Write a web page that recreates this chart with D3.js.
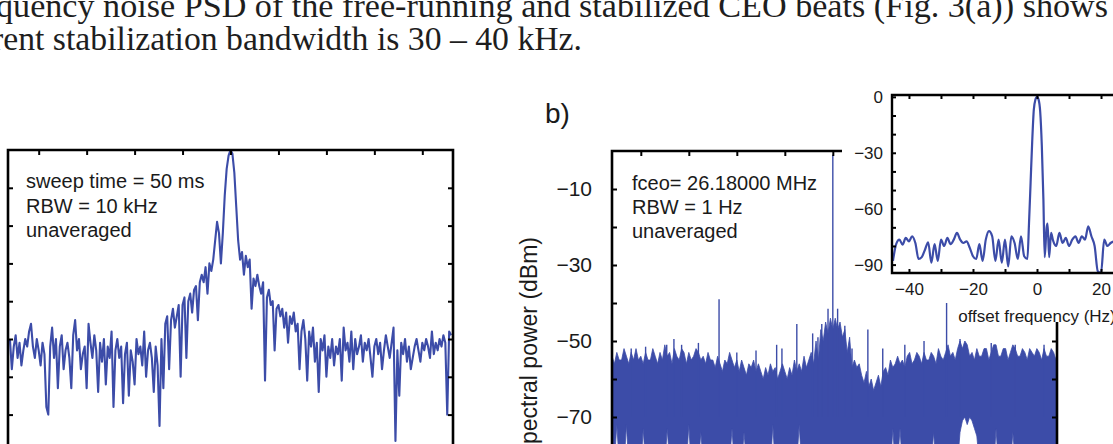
<!DOCTYPE html>
<html>
<head>
<meta charset="utf-8">
<script src="https://cdn.jsdelivr.net/npm/d3@7"></script>
<style>
body { margin: 0; background: #fff; }
svg { display: block; }
.fig text { font-family: Arial, "Liberation Sans", sans-serif; fill: #1a1a1a; }
.paper { font-family: "Liberation Serif", "Times New Roman", serif; fill: #1e1e1e; }
</style>
</head>
<body>
<svg width="1113" height="444"></svg>
<script>
// ---- data ----

// panel a: beat note, sampled every 2 kHz from -230 kHz
var aStart = -230, aStep = 2;
var aPower = [
  -50, -58, -52, -49, -55, -51, -57, -53, -50, -52,
  -48, -46, -52, -55, -50, -53, -57, -51, -54, -68,
  -70, -52, -47, -55, -50, -63, -52, -49, -58, -53,
  -51, -55, -63, -49, -45, -53, -50, -58, -54, -52,
  -63, -46, -51, -55, -49, -53, -64, -51, -56, -50,
  -62, -52, -55, -48, -68, -53, -50, -55, -52, -67,
  -54, -51, -65, -53, -56, -62, -50, -54, -52, -57,
  -48, -60, -53, -51, -55, -64, -52, -57, -73, -50,
  -63, -46, -44, -58, -45, -42, -47, -44, -41, -60,
  -41, -39, -55, -40, -38, -43, -37, -36, -45, -35,
  -33, -35, -31, -38, -30, -32, -29, -24, -19, -22,
  -30, -22, -12, -5, -1.5, 0, -1, -6, -15, -24,
  -29, -27, -33, -28, -31, -29, -42, -34, -36, -33,
  -36, -38, -35, -61, -39, -37, -41, -40, -53, -42,
  -41, -44, -42, -47, -43, -51, -44, -46, -43, -48,
  -46, -58, -48, -45, -50, -61, -48, -52, -47, -56,
  -51, -64, -50, -53, -49, -60, -52, -55, -50, -57,
  -52, -54, -50, -61, -47, -53, -51, -56, -48, -58,
  -50, -54, -52, -49, -56, -51, -53, -50, -55, -60,
  -52, -50, -54, -51, -58, -53, -49, -52, -55, -51,
  -47, -77, -53, -65, -51, -54, -50, -56, -52, -58,
  -55, -52, -50, -53, -56, -51, -53, -50, -52, -55,
  -48, -54, -51, -53, -50, -52, -49, -51, -70, -48,
  -49
];
var aNotes = ['sweep time = 50 ms', 'RBW = 10 kHz', 'unaveraged'];

// panel b: top and bottom edge of the dense trace, every 5 Hz from -460 Hz
var bStart = -460, bStep = 5;
var bUpper = [
  -54, -56, -53, -55, -55, -52, -54, -56, -53, -55,
  -52, -55, -54, -56, -53, -55, -55, -52, -54, -56,
  -53, -55, -51, -54, -53, -56, -52, -54, -55, -52,
  -53, -56, -53, -55, -54, -52, -53, -55, -54, -56,
  -53, -55, -55,
  -57, -54, -56, -58, -55, -56, -53, -55, -57, -55,
  -58, -55, -57, -59, -56, -57, -55, -58, -56, -58,
  -60, -57, -59, -56, -58, -57, -60, -58, -56, -58,
  -60, -57, -59, -55, -58, -56, -58, -54, -57, -55,
  -53,
  -56, -50, -55, -47, -50, -45, -48, -44, -47, -44, -47, -45, -49, -47, -53, -49, -57,
  -55, -57, -56, -59, -61, -58, -62, -60, -63, -61,
  -59, -62, -58, -57, -59, -55, -57, -56, -54, -56,
  -55, -57, -54, -53, -56, -55, -53, -54, -56, -53,
  -55, -55, -53, -54, -56, -52, -54, -55, -53, -51,
  -54, -53, -55, -52, -50, -52, -50, -51, -54, -53,
  -55, -52, -54, -54, -52, -52, -55, -53, -51, -51,
  -54, -54, -52, -52, -55, -53, -51, -52, -54, -54,
  -52, -53, -55, -52, -53, -54, -52, -53, -55, -52,
  -54, -54, -52, -53, -55, -53
];
var bLower = [
  -83, -82, -72, -82, -84, -83, -72, -83, -82, -84,
  -83, -82, -84, -73, -83, -82, -84, -83, -82, -83,
  -84, -82, -83, -73, -82, -84, -83, -82, -83, -84,
  -82, -83, -72, -83, -84, -82, -83, -74, -82, -83,
  -84, -82, -83, -82, -84, -83, -82, -83, -84, -82,
  -73, -83, -82, -84, -83, -74, -82, -83, -84, -82,
  -83, -82, -84, -83, -82, -83, -84, -72, -83, -82,
  -84, -83, -82, -83, -84, -82, -83, -82, -72, -83,
  -84, -82, -83, -82, -84, -83, -82, -83, -84, -82,
  -83, -82, -84, -83, -82, -83, -84, -82, -83, -82,
  -84, -83, -82, -83, -84, -82, -83, -82, -84, -83,
  -82, -83, -84, -82, -83, -82, -84, -73, -83, -82,
  -73, -83, -84, -82, -83, -82, -84, -83, -82, -83,
  -84, -82, -83, -82, -74, -83, -82, -84, -83, -82,
  -83, -82, -84, -83, -82, -74, -71, -70, -72, -70,
  -71, -73, -75, -82, -83, -84, -82, -83, -82, -84,
  -73, -83, -82, -84, -83, -82, -83, -74, -82, -84,
  -83, -82, -83, -84, -82, -83, -82, -84, -83, -82,
  -83, -84, -82, -83, -82, -84, -83
];
var bSpikeHz = [0, -237, 237, -420, -390, -346, -331, -315, -280, -200, -160, -117, -106, -75, -42, -31, -23, -10, 10, 25, 40, 73, 104, 150, 190, 265, 330, 380, 440];
var bSpikeDb = [-1, -39, -40, -52, -51.5, -51, -49.5, -51, -50.5, -53, -52.5, -51, -52, -45.5, -48, -49, -45.5, -41.5, -41.5, -46, -52, -47, -52, -51, -50, -49.5, -50.5, -51, -51];
var bNotes = ['fceo= 26.18000 MHz', 'RBW = 1 Hz', 'unaveraged'];
var bTickLabels = [-10, -30, -50, -70];

// inset: offset frequency (Hz) and power (dB)
var inHz = [-45, -44, -43, -42, -41, -40, -39, -38, -37, -36, -35, -34, -33, -32, -31, -30,
  -29, -28, -27, -26, -25, -24, -23, -22, -21, -20, -19, -18, -17, -16, -15, -14, -13,
  -12, -11, -10, -9, -8, -7, -6, -5, -4, -3, -2.5, -2, -1.5, -1, -0.5, 0, 0.5, 1, 1.5,
  2, 2.4, 3, 3.3, 3.8, 4.4, 5, 6, 7, 8, 9, 10, 11, 12, 13, 14, 15, 16, 17, 18, 19, 20,
  21, 22, 23, 24];
var inDb = [-88, -79, -76.6, -79.3, -75.7, -77.5, -74.8, -78.4, -87, -86, -82, -78, -89, -79, -88, -76.6,
  -80, -75.7, -79, -76.6, -73, -76.6, -78.4, -77.5, -81, -85.5, -87, -79, -88, -76.6, -72, -74.8, -88,
  -76.6, -89, -76.6, -91, -74.8, -78.4, -87, -74.8, -85.5, -87, -68, -46, -24, -7, -1.5, 0, -1.5, -8, -26,
  -55, -86, -70, -68, -86, -73, -77, -80, -73, -78.4, -75.7, -80, -76.6, -74.8, -78.4, -74.8, -76.6, -69.5, -74.8, -80, -93.6, -94.5,
  -76.6, -80, -78.4, -77.5];
var inXLabels = [-40, -20, 0, 20, 40];
var inYLabels = [0, -30, -60, -90];

var paperLines = [
  'quency noise PSD of the free-running and stabilized CEO beats (Fig. 3(a)) shows',
  'rent stabilization bandwidth is 30 \u2013 40 kHz.'
];

// ---- drawing ----
var svg = d3.select('svg');
var blue = '#3c4ca8';
var defs = svg.append('defs');

function clip(id, x0, y0, x1, y1) {
  defs.append('clipPath').attr('id', id)
    .append('rect').attr('x', x0).attr('y', y0).attr('width', x1 - x0).attr('height', y1 - y0);
}

var fig = svg.append('g').attr('class', 'fig');

// ===== panel a =====
var ax = d3.scaleLinear().domain([-232, 232]).range([8, 453]);
var ay = d3.scaleLinear().domain([-80, 0]).range([452.4, 150]);
clip('clipA', 8, 150, 453, 444);

fig.append('path')
  .datum(aPower)
  .attr('clip-path', 'url(#clipA)')
  .attr('fill', 'none')
  .attr('stroke', blue)
  .attr('stroke-width', 2.1)
  .attr('stroke-linejoin', 'round')
  .attr('d', d3.line()
    .x(function(d, i){ return ax(aStart + i * aStep); })
    .y(function(d){ return ay(d); }));

var aTicksX = d3.range(-200, 201, 50);
var aTicksY = d3.range(-70, -9, 10);
fig.append('g').attr('transform', 'translate(0,150)')
  .call(d3.axisTop(ax).tickValues(aTicksX).tickSize(-5).tickFormat(''));
fig.append('g').attr('transform', 'translate(8,0)')
  .call(d3.axisLeft(ay).tickValues(aTicksY).tickSize(-5).tickFormat(''));
fig.append('g').attr('transform', 'translate(453,0)')
  .call(d3.axisRight(ay).tickValues(aTicksY).tickSize(-5).tickFormat(''));

fig.append('path')
  .attr('d', 'M8,460V150H453V460')
  .attr('fill', 'none').attr('stroke', '#000').attr('stroke-width', 2.6);

fig.selectAll('text.anote')
  .data(aNotes)
  .enter()
  .append('text')
  .attr('class', 'anote')
  .attr('x', 26)
  .attr('y', function(d, i){ return 188 + i * 24.5; })
  .attr('font-size', 20)
  .text(function(d){ return d; });

// ===== panel b (main) =====
var bx = d3.scaleLinear().domain([-460, 467]).range([612, 1057]);
var by = d3.scaleLinear().domain([-80, 0]).range([455, 151]);
clip('clipB', 612, 151, 1057, 444);

fig.append('path')
  .datum(bUpper)
  .attr('clip-path', 'url(#clipB)')
  .attr('fill', blue)
  .attr('stroke', blue)
  .attr('stroke-width', 0.8)
  .attr('d', d3.area()
    .x(function(d, i){ return bx(bStart + i * bStep); })
    .y0(function(d, i){ return by(bLower[i]); })
    .y1(function(d){ return by(d); }));

fig.append('g')
  .attr('clip-path', 'url(#clipB)')
  .selectAll('line')
  .data(bSpikeHz)
  .enter()
  .append('line')
  .attr('x1', function(d){ return bx(d); })
  .attr('x2', function(d){ return bx(d); })
  .attr('y1', by(-70))
  .attr('y2', function(d, i){ return by(bSpikeDb[i]); })
  .attr('stroke', blue)
  .attr('stroke-width', 1.4);

var bTicksY = d3.range(-70, -9, 10);
fig.append('g').attr('transform', 'translate(0,151)')
  .call(d3.axisTop(bx).tickValues(d3.range(-400, 401, 100)).tickSize(-5).tickFormat(''));
fig.append('g').attr('transform', 'translate(612,0)')
  .call(d3.axisLeft(by).tickValues(bTicksY).tickSize(-5).tickFormat(''));
fig.append('g').attr('transform', 'translate(1057,0)')
  .call(d3.axisRight(by).tickValues(bTicksY).tickSize(-5).tickFormat(''));
var bLab = fig.append('g').attr('transform', 'translate(612,0)')
  .call(d3.axisLeft(by).tickValues(bTickLabels).tickSize(0).tickPadding(20));
bLab.selectAll('text').attr('font-size', 21).attr('fill', '#1a1a1a');

fig.append('path')
  .attr('d', 'M612,460V151H1057V460')
  .attr('fill', 'none').attr('stroke', '#000').attr('stroke-width', 2.6);

fig.selectAll('text.bnote')
  .data(bNotes)
  .enter()
  .append('text')
  .attr('class', 'bnote')
  .attr('x', 632)
  .attr('y', function(d, i){ return 190 + i * 24; })
  .attr('font-size', 20)
  .text(function(d){ return d; });

fig.append('text')
  .attr('transform', 'translate(537,237) rotate(-90)')
  .attr('text-anchor', 'end')
  .attr('font-size', 23)
  .text('spectral power (dBm)');

fig.append('text')
  .attr('x', 545).attr('y', 123)
  .attr('font-size', 28)
  .text('b)');

// white block behind the inset (below the paper text)
fig.append('rect').attr('x', 842).attr('y', 62).attr('width', 271).attr('height', 228).attr('fill', '#fff');
fig.append('rect').attr('x', 955).attr('y', 289).attr('width', 158).attr('height', 33).attr('fill', '#fff');

// ===== inset =====
var ix = d3.scaleLinear().domain([-45.3, 45.3]).range([892, 1182]);
var iy = d3.scaleLinear().domain([-94.5, 1]).range([273, 95]);
clip('clipI', 892, 95, 1182, 273);

fig.append('path')
  .datum(inDb)
  .attr('clip-path', 'url(#clipI)')
  .attr('fill', 'none')
  .attr('stroke', blue)
  .attr('stroke-width', 2.2)
  .attr('d', d3.line()
    .curve(d3.curveMonotoneX)
    .x(function(d, i){ return ix(inHz[i]); })
    .y(function(d){ return iy(d); }));

var iTicksX = d3.range(-40, 41, 10);
var iTicksY = d3.range(-90, 1, 10);
fig.append('g').attr('transform', 'translate(0,95)')
  .call(d3.axisTop(ix).tickValues(iTicksX).tickSize(-4).tickFormat(''));
fig.append('g').attr('transform', 'translate(0,273)')
  .call(d3.axisBottom(ix).tickValues(iTicksX).tickSize(-4).tickFormat(''));
fig.append('g').attr('transform', 'translate(892,0)')
  .call(d3.axisLeft(iy).tickValues(iTicksY).tickSize(-4).tickFormat(''));

var iLabX = fig.append('g').attr('transform', 'translate(0,273)')
  .call(d3.axisBottom(ix).tickValues(inXLabels).tickSize(0).tickPadding(10));
iLabX.selectAll('text').attr('font-size', 17).attr('fill', '#1a1a1a');
var iLabY = fig.append('g').attr('transform', 'translate(892,0)')
  .call(d3.axisLeft(iy).tickValues(inYLabels).tickSize(0).tickPadding(9));
iLabY.selectAll('text').attr('font-size', 17).attr('fill', '#1a1a1a');

fig.append('path')
  .attr('d', 'M1190,95H892V273H1190')
  .attr('fill', 'none').attr('stroke', '#000').attr('stroke-width', 2.4);

fig.append('text')
  .attr('x', ix(0)).attr('y', 322)
  .attr('text-anchor', 'middle')
  .attr('font-size', 17)
  .text('offset frequency (Hz)');

fig.selectAll('.domain').remove();
fig.selectAll('.tick line').attr('stroke', '#000').attr('stroke-width', 2);

// body text of the paper above the figure
svg.selectAll('text.paper')
  .data(paperLines)
  .enter()
  .append('text')
  .attr('class', 'paper')
  .attr('x', function(d, i){ return i ? -8 : -4; })
  .attr('y', function(d, i){ return i ? 50 : 17; })
  .attr('font-size', 33)
  .attr('textLength', function(d, i){ return i ? 590 : 1112; })
  .attr('lengthAdjust', 'spacingAndGlyphs')
  .text(function(d){ return d; });
</script>
</body>
</html>
